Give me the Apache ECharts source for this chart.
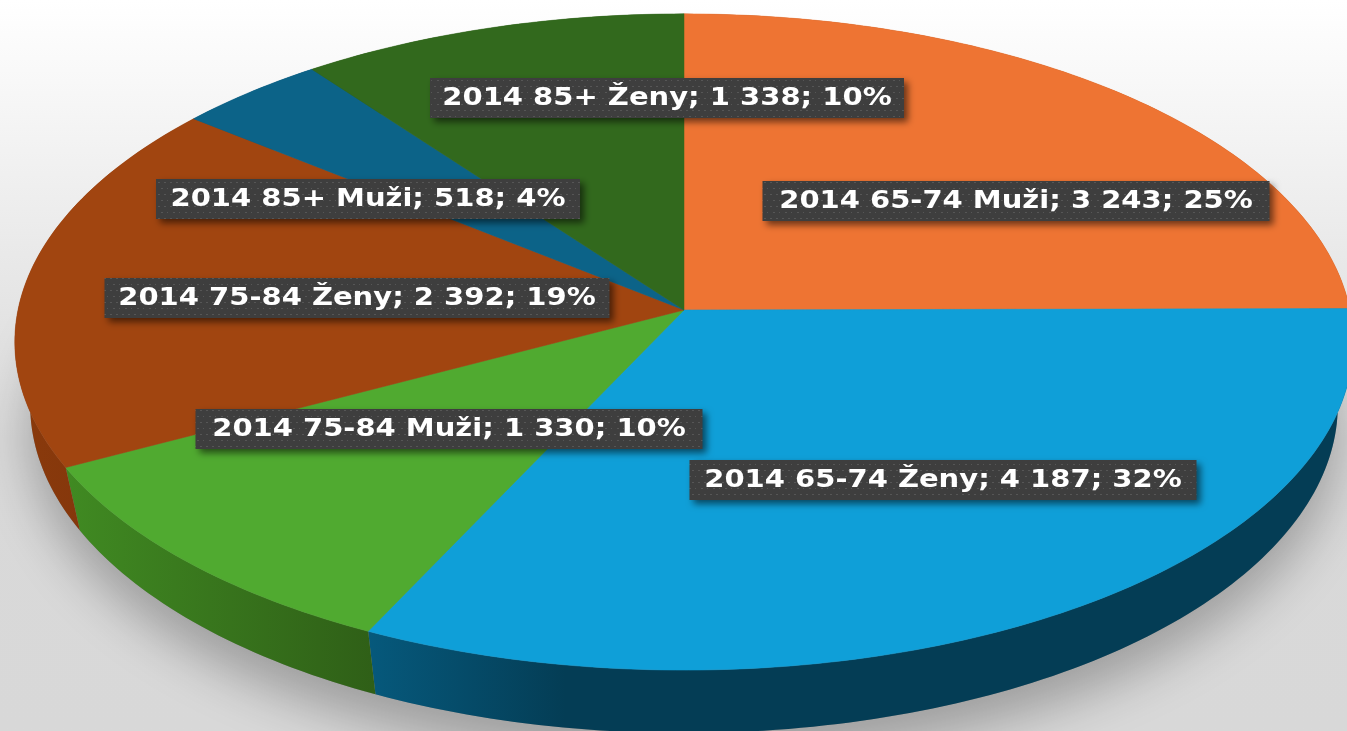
<!DOCTYPE html>
<html>
<head>
<meta charset="utf-8">
<title>2014</title>
<script src="https://cdn.jsdelivr.net/npm/echarts@6/dist/echarts.min.js"></script>
<style>
  html, body { margin: 0; padding: 0; overflow: hidden; background: #fff; }
  #chart { width: 1347px; height: 731px; }
</style>
</head>
<body>
<div id="chart"></div>
<script>
// data
var categories = ['2014 65-74 Muži', '2014 65-74 Ženy', '2014 75-84 Muži', '2014 75-84 Ženy', '2014 85+ Muži', '2014 85+ Ženy'];
var values = [3243, 4187, 1330, 2392, 518, 1338];
var valueLabels = ['3 243', '4 187', '1 330', '2 392', '518', '1 338'];
var percentLabels = [25, 32, 10, 19, 4, 10];

// colours
var topColors = ['#ee7433', '#0f9fd8', '#50aa30', '#a14510', '#0c6388', '#32691d'];
// side wall colour at its left end, the colour it settles to, and where it gets there
var sideColors = [
  ['#a04612', '#a04612', 1],
  ['#06597c', '#043d55', 0.2],
  ['#408a22', '#2f5f17', 1],
  ['#8a3a0c', '#7c320a', 1],
  ['#0a4f6c', '#0a4f6c', 1],
  ['#28551a', '#28551a', 1]
];

// tilted pie geometry, in the pixel space of the hidden axes
var cx = 684, cy = 310, sx = 666, sy = 325, persp = 0.0975;
var depth = 63, bottomShrink = 0.977;
// centre x, centre y, width of each label box
var labelBoxes = [
  [1016, 201, 507],
  [943, 480, 507],
  [449, 429, 507],
  [357, 298, 505],
  [368, 199, 424],
  [667, 98, 474]
];
var boxHeight = 40;

var total = values.reduce(function (a, b) { return a + b; }, 0);
var slices = [];
var run = 0;
values.forEach(function (v, i) {
  slices.push([run / total, (run + v) / total, i]);
  run += v;
});

// fraction of the turn (0 = top, clockwise) to a point on the rim
function rim(t) {
  var a = t * Math.PI * 2;
  var X = Math.sin(a), Y = Math.cos(a);
  var d = 1 + persp * Y;
  return [cx + sx * X / d, cy - sy * Y / d];
}
function bottom(t) {
  var p = rim(t);
  return [cx + (p[0] - cx) * bottomShrink, p[1] + depth];
}
function arc(fn, t0, t1) {
  var n = Math.max(2, Math.ceil((t1 - t0) * 360));
  var pts = [];
  for (var i = 0; i <= n; i++) {
    pts.push(fn(t0 + (t1 - t0) * i / n));
  }
  return pts;
}

// dotted fill of the label boxes
function dotTile() {
  var c = document.createElement('canvas');
  c.width = 12; c.height = 12;
  var g = c.getContext('2d');
  g.fillStyle = '#3e3e3e';
  g.fillRect(0, 0, 12, 12);
  g.fillStyle = '#565656';
  g.fillRect(2, 2, 2, 1);
  g.fillRect(8, 2, 2, 1);
  g.fillRect(5, 8, 2, 1);
  g.fillRect(11, 8, 1, 1);
  return c;
}
var tile = dotTile();

function toPixels(api, pts) {
  return pts.map(function (p) { return api.coord(p); });
}

function renderShadow(params, api) {
  return {
    type: 'polygon',
    shape: { points: toPixels(api, arc(bottom, 0, 1)) },
    style: {
      fill: '#8a8a8a',
      shadowColor: 'rgba(0,0,0,0.27)',
      shadowBlur: 50,
      shadowOffsetX: 0,
      shadowOffsetY: 28
    }
  };
}

function renderSide(params, api) {
  var s = slices[params.dataIndex];
  var pts = arc(rim, s[0], s[1]).concat(arc(bottom, s[0], s[1]).reverse());
  var c = sideColors[s[2]];
  return {
    type: 'polygon',
    shape: { points: toPixels(api, pts) },
    style: {
      fill: {
        type: 'linear', x: 0, y: 0, x2: 1, y2: 0,
        colorStops: [
          { offset: 0, color: c[0] },
          { offset: c[2], color: c[1] },
          { offset: 1, color: c[1] }
        ]
      }
    }
  };
}

function renderTop(params, api) {
  var s = slices[params.dataIndex];
  var pts = [[cx, cy]].concat(arc(rim, s[0], s[1]));
  return {
    type: 'polygon',
    shape: { points: toPixels(api, pts) },
    style: { fill: topColors[s[2]], stroke: topColors[s[2]], lineWidth: 0.5 }
  };
}

function renderLabel(params, api) {
  var i = params.dataIndex;
  var b = labelBoxes[i];
  var c = api.coord([b[0], b[1]]);
  return {
    type: 'group',
    children: [
      {
        type: 'rect',
        shape: { x: c[0] - b[2] / 2, y: c[1] - boxHeight / 2, width: b[2], height: boxHeight },
        style: {
          fill: { type: 'pattern', image: tile, repeat: 'repeat' },
          shadowColor: 'rgba(0,0,0,0.55)',
          shadowBlur: 7,
          shadowOffsetX: 4,
          shadowOffsetY: 4
        }
      },
      {
        type: 'text',
        x: c[0],
        y: c[1],
        scaleX: 1.16,
        style: {
          text: categories[i] + '; ' + valueLabels[i] + '; ' + percentLabels[i] + '%',
          font: 'bold 25px "DejaVu Sans"',
          fill: '#ffffff',
          textAlign: 'center',
          textVerticalAlign: 'middle'
        }
      }
    ]
  };
}

function customSeries(fn, data, z) {
  return { type: 'custom', renderItem: fn, data: data, clip: false, z: z, silent: true, animation: false };
}

var chart = echarts.init(document.getElementById('chart'), null, { renderer: 'canvas' });
var rows = slices.map(function (s) { return [s[0], s[1]]; });

chart.setOption({
  animation: false,
  backgroundColor: {
    type: 'linear', x: 0, y: 0, x2: 0, y2: 1,
    colorStops: [
      { offset: 0, color: '#ffffff' },
      { offset: 0.27, color: '#eeeeee' },
      { offset: 0.6, color: '#d9d9d9' },
      { offset: 1, color: '#d8d8d8' }
    ]
  },
  grid: { left: 0, right: 0, top: 0, bottom: 0 },
  xAxis: { type: 'value', min: 0, max: 1347, show: false },
  yAxis: { type: 'value', min: 0, max: 731, inverse: true, show: false },
  series: [
    customSeries(renderShadow, [[0, 0]], 1),
    customSeries(renderSide, rows, 2),
    customSeries(renderTop, rows, 3),
    customSeries(renderLabel, rows, 4)
  ]
});
</script>
</body>
</html>
